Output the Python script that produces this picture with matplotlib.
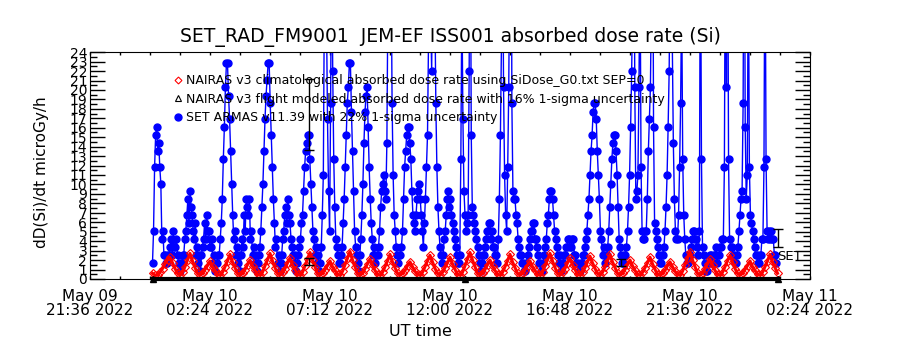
import numpy as np
import pandas as pd
import matplotlib
matplotlib.use('Agg')
import matplotlib.pyplot as plt
import matplotlib.dates as mdates
from matplotlib.ticker import FixedLocator, MultipleLocator
from matplotlib.lines import Line2D

# SET ARMAS v11.39 dose rate (microGy/h), 2.5 min cadence; values above 24 run off the top
armas_start = '2022-05-10 00:06'
armas_step = '150s'
armas_dose = [
    1.7, 5.1, 11.8, 15.2, 16.1, 13.5, 14.4, 11.8, 10.1, 4.2, 5.1, 2.5, 2.5, 1.7, 1.7, 2.5,
    2.5, 3.4, 4.2, 2.5, 5.1, 3.4, 3.4, 4.2, 2.5, 1.7, 0.8, 1.7,
    1.7, 2.5, 2.5, 4.2, 5.1, 6.8, 8.5, 5.9, 9.3, 7.6, 6.8, 5.1, 4.2, 5.9, 2.5, 3.4, 1.7, 2.5,
    0.8, 2.5, 3.4, 4.2, 5.9, 4.2, 6.8, 5.1, 5.1, 3.4, 3.4, 4.2, 1.7, 2.5, 0.8, 1.7,
    1.7, 2.5, 2.5, 4.2, 5.9, 8.5, 12.7, 16.1, 20.3, 22.8, 22.8, 19.4, 16.9, 13.5, 10.1, 6.8,
    4.2, 5.1, 2.5, 3.4, 1.7, 2.5,
    0.8, 2.5, 4.2, 3.4, 6.8, 5.1, 8.5, 7.6, 6.8, 8.5, 4.2, 5.1, 2.5, 3.4, 1.7, 2.5, 0.8, 1.7,
    2.5, 3.4, 5.1, 7.6, 10.1, 13.5, 16.9, 19.4, 21.1, 22.8, 22.8, 18.6, 15.2, 11.8, 8.5, 5.9,
    3.4, 4.2, 1.7, 2.5,
    0.8, 1.7, 2.5, 4.2, 5.1, 6.8, 7.6, 5.9, 8.5, 6.8, 5.9, 4.2, 3.4, 2.5, 1.7, 2.5,
    0.8, 1.7, 2.5, 3.4, 4.2, 5.9, 6.8, 9.3, 11.8, 13.5, 14.4, 15.2, 15.2, 12.7, 10.1, 7.6,
    5.1, 4.2, 2.5, 3.4, 1.7, 2.5,
    0.8, 1.7, 3.4, 6.8, 11.0, 30.0, 45.0, 28.0, 16.9, 9.3, 5.1, 18.6, 40.0, 22.0, 12.7, 7.6,
    4.2, 3.4, 2.5, 1.7,
    1.7, 2.5, 3.4, 5.9, 8.5, 11.8, 15.2, 18.6, 20.3, 22.8, 22.8, 17.7, 13.5, 9.3, 5.1, 3.4,
    2.5, 1.7,
    0.8, 2.5, 4.2, 6.8, 10.1, 14.4, 17.7, 19.4, 20.3, 16.1, 11.8, 8.5, 5.9, 4.2, 2.5, 3.4,
    1.7, 2.5,
    2.5, 3.4, 5.1, 7.6, 9.3, 10.1, 11.0, 9.3, 8.5, 14.4, 30.0, 45.0, 55.0, 35.0, 18.6, 11.0,
    6.8, 5.1, 3.4, 2.5, 1.7, 2.5,
    2.5, 3.4, 5.1, 8.5, 11.8, 13.5, 15.2, 16.1, 16.1, 14.4, 12.7, 9.3, 6.8, 5.9, 5.1, 6.8,
    8.5, 9.3, 10.1, 8.5, 6.8, 5.1,
    3.4, 5.9, 8.5, 11.8, 15.2, 26.0, 35.0, 28.0, 22.0, 35.0, 50.0, 30.0, 18.6, 11.8, 7.6, 5.1,
    3.4, 2.5,
    1.7, 2.5, 4.2, 5.1, 6.8, 8.5, 9.3, 7.6, 8.5, 6.8, 5.9, 5.1, 4.2, 3.4, 2.5, 1.7, 1.7, 2.5,
    12.7, 30.0, 16.9, 9.3, 6.8, 5.1, 5.9, 6.8, 22.0, 45.0, 15.2, 7.6, 6.8, 5.9, 5.1, 4.2,
    3.4, 2.5, 1.7, 0.8,
    1.7, 2.5, 2.5, 3.4, 4.2, 5.1, 5.1, 5.9, 5.9, 4.2, 5.1, 3.4, 3.4, 2.5, 2.5, 1.7,
    4.2, 8.5, 15.2, 25.0, 40.0, 20.3, 11.0, 6.8, 5.1, 11.8, 20.3, 35.0, 60.0, 18.6, 9.3, 8.5,
    8.5, 6.8, 5.9, 4.2, 3.4, 2.5, 2.5, 1.7,
    1.7, 0.8, 0.8, 1.7, 2.5, 3.4, 4.2, 5.1, 5.1, 5.9, 5.9, 4.2, 4.2, 3.4, 2.5, 1.7, 1.7, 0.8,
    0.8, 1.7,
    2.5, 3.4, 4.2, 5.9, 6.8, 8.5, 9.3, 9.3, 8.5, 6.8, 5.1, 4.2, 3.4, 2.5, 1.7, 2.5, 0.8, 1.7,
    1.7, 2.5, 2.5, 3.4, 3.4, 4.2, 4.2, 3.4, 3.4, 4.2, 4.2, 2.5, 2.5, 1.7, 1.7, 0.8, 0.8, 1.7,
    1.7, 2.5,
    2.5, 3.4, 4.2, 5.1, 6.8, 8.5, 11.0, 13.5, 15.2, 17.7, 18.6, 18.6, 16.9, 13.5, 11.0, 8.5,
    5.1, 4.2, 2.5, 3.4, 1.7, 2.5,
    2.5, 3.4, 5.1, 7.6, 10.1, 12.7, 14.4, 15.2, 15.2, 13.5, 11.0, 7.6, 4.2, 3.4, 2.5, 1.7,
    1.7, 2.5, 2.5, 3.4, 5.1, 7.6, 11.0, 16.1, 22.0, 30.0, 45.0, 20.3, 8.5, 9.3, 11.0, 20.3,
    35.0, 11.8, 5.1, 4.2, 4.2, 5.1, 5.1, 8.5, 13.5, 16.9, 20.3, 30.0, 50.0, 16.1, 5.9, 5.1,
    4.2, 3.4, 2.5, 1.7,
    1.7, 2.5, 2.5, 3.4, 5.1, 7.6, 11.0, 16.1, 22.0, 35.0, 55.0, 25.0, 14.4, 8.5, 5.1, 4.2,
    4.2, 6.8, 11.8, 18.6, 30.0, 12.7, 6.8, 4.2, 2.5, 1.7,
    1.7, 2.5, 2.5, 3.4, 4.2, 5.1, 5.1, 4.2, 4.2, 3.4, 2.5, 5.1,
    40.0, 12.7, 3.4, 2.5, 1.7, 0.8, 0.8, 1.7,
    1.7, 2.5, 2.5, 1.7, 1.7, 2.5, 2.5, 3.4, 1.7, 2.5, 2.5, 3.4, 3.4, 4.2,
    4.2, 11.8, 40.0, 20.3, 45.0, 12.7, 4.2, 3.4, 3.4, 2.5, 2.5, 1.7,
    1.7, 2.5, 3.4, 5.1, 6.8, 8.5, 9.3, 18.6, 50.0, 16.1, 8.5, 11.0, 35.0, 11.8, 6.8, 5.9,
    5.1, 4.2, 3.4, 2.5, 2.5, 1.7,
    1.7, 2.5, 2.5, 4.2, 4.2, 11.8, 40.0, 12.7, 5.1, 4.2, 5.1, 4.2, 5.1, 4.2, 4.2, 2.5,
    2.5, 1.7,
]

# NAIRAS v3 climatological dose rate (microGy/h), 6 min cadence
nairas_start = '2022-05-10 00:06'
nairas_step = '6min'
nairas_dose = [
    0.6, 0.4, 0.4, 0.7, 1.1, 1.6, 2.0, 2.3, 1.7, 1.1, 0.6,
    0.4, 0.7, 1.3, 2.0, 2.7, 1.9, 1.2, 0.6,
    0.4, 0.6, 1.0, 1.4, 1.9, 1.3, 0.9, 0.5,
    0.4, 0.7, 1.3, 1.9, 2.6, 1.8, 1.2, 0.6,
    0.4, 0.6, 1.0, 1.5, 2.0, 1.4, 0.9, 0.5,
    0.4, 0.7, 1.4, 2.0, 2.7, 1.9, 1.2, 0.6,
    0.4, 0.7, 1.1, 1.7, 2.2, 1.5, 1.0, 0.5,
    0.4, 0.7, 1.4, 2.1, 2.8, 2.0, 1.3, 0.6,
    0.4, 0.6, 1.0, 1.4, 1.9, 1.3, 0.9, 0.5,
    0.4, 0.8, 1.5, 2.2, 2.9, 2.0, 1.3, 0.6,
    0.4, 0.6, 1.1, 1.6, 2.1, 1.5, 0.9, 0.5,
    0.4, 0.7, 1.3, 1.9, 2.6, 1.8, 1.2, 0.6,
    0.4, 0.6, 0.9, 1.4, 1.8, 1.3, 0.8, 0.5,
    0.4, 0.7, 1.3, 1.9, 2.5, 1.8, 1.1, 0.6,
    0.4, 0.7, 1.2, 1.7, 2.3, 1.6, 1.0, 0.5,
    0.4, 0.7, 1.4, 2.1, 2.8, 2.0, 1.3, 0.6,
    0.4, 0.6, 1.0, 1.5, 2.0, 1.4, 0.9, 0.5,
    0.4, 0.7, 1.3, 1.9, 2.6, 1.8, 1.2, 0.6,
    0.4, 0.6, 1.0, 1.4, 1.9, 1.3, 0.9, 0.5,
    0.4, 0.7, 1.4, 2.0, 2.7, 1.9, 1.2, 0.6,
    0.4, 0.7, 1.1, 1.7, 2.2, 1.5, 1.0, 0.5,
    0.4, 0.7, 1.2, 1.8, 2.4, 1.7, 1.1, 0.6,
    0.4, 0.7, 1.3, 1.9, 2.6, 1.8, 1.2, 0.6,
    0.4, 0.6, 1.0, 1.5, 2.0, 1.4, 0.9, 0.5,
    0.4, 0.7, 1.2, 1.7, 2.3, 1.6, 1.0, 0.5,
    0.4, 0.6, 0.9, 1.4, 1.8, 1.3, 0.8, 0.5,
    0.4, 0.8, 1.5, 2.2, 2.9, 2.0, 1.3, 0.6,
    0.4, 0.6, 1.1, 1.6, 2.1, 1.5, 0.9, 0.5,
    0.4, 0.7, 1.3, 1.9, 2.5, 1.8, 1.1, 0.6,
    0.4, 0.6, 1.0, 1.4, 1.9, 1.3, 0.9, 0.5,
    0.4, 0.7, 1.3, 1.9, 2.6, 1.8, 1.2, 0.6,
]

# NAIRAS v3 flight modeled dose (sits on zero)
flight_times = ['2022-05-10 00:06', '2022-05-10 12:36', '2022-05-11 01:06']
flight_dose = [0.0, 0.0, 0.0]

# 22% 1-sigma error bars drawn for a few ARMAS samples
bar_times = ['2022-05-10 06:21', '2022-05-10 06:21', '2022-05-10 18:51']
bar_dose = [17.4, 1.85, 1.7]
bar_sigma = [3.8, 0.4, 0.37]

# SET mean value with its bar
set_time = '2022-05-11 01:06'
set_dose = 4.3
set_sigma = 0.95

x_start = '2022-05-09 21:36'
x_end = '2022-05-11 02:24'


def to_num(t):
    return mdates.date2num(pd.DatetimeIndex(t).to_pydatetime())


armas_t = to_num(pd.date_range(armas_start, periods=len(armas_dose), freq=armas_step))
nairas_t = to_num(pd.date_range(nairas_start, periods=len(nairas_dose), freq=nairas_step))

plt.rcParams['font.family'] = 'DejaVu Sans'
fig = plt.figure(figsize=(9, 3.5), dpi=100)
ax = fig.add_axes([0.1, 0.203, 0.8, 0.648])

ax.plot(armas_t, armas_dose, '-o', color='#0000ff', lw=1, markersize=5, zorder=2)
ax.plot(nairas_t, nairas_dose, '-D', color='#ff0000', lw=2.2, markersize=4.5,
        mfc='none', mew=0.8, zorder=3)
ax.plot(to_num(flight_times), flight_dose, '-', color='black', lw=3, clip_on=False, zorder=4)
ax.plot(to_num(flight_times), flight_dose, '^', color='black', markersize=4,
        clip_on=False, zorder=4)
ax.errorbar(to_num(bar_times), bar_dose, yerr=bar_sigma, fmt='none', ecolor='black',
            elinewidth=1, capsize=3.5, zorder=5)
ax.errorbar(to_num([set_time]), [set_dose], yerr=[set_sigma], fmt='none', ecolor='black',
            elinewidth=1, capsize=3.5, zorder=5)
ax.text(to_num([set_time])[0], 2.4, 'SET', fontsize=9.5, ha='left', va='center')

ax.set_xlim(to_num([x_start, x_end]))
ax.set_ylim(0, 24)

major = pd.date_range(x_start, x_end, freq='288min')
minor = pd.date_range(x_start, x_end, freq='72min')
ax.xaxis.set_major_locator(FixedLocator(to_num(major)))
ax.xaxis.set_minor_locator(FixedLocator(to_num(minor)))
ax.xaxis.set_major_formatter(mdates.DateFormatter('%b %d\n%H:%M %Y'))
ax.yaxis.set_major_locator(MultipleLocator(1))
ax.yaxis.set_minor_locator(MultipleLocator(0.5))

ax.tick_params(axis='x', which='both', direction='in', top=True, length=2.5, width=1,
               pad=7, labelsize=11)
ax.tick_params(axis='y', which='major', direction='in', right=True, length=11, width=1,
               pad=2, labelsize=10)
ax.tick_params(axis='y', which='minor', direction='in', right=True, length=5, width=1)
for lab in ax.get_xticklabels():
    lab.set_linespacing(0.95)

handles = [
    Line2D([], [], ls='none', marker='D', color='#ff0000', mfc='none', markersize=3.5, mew=0.8),
    Line2D([], [], ls='none', marker='^', color='black', mfc='none', markersize=4.5, mew=0.8),
    Line2D([], [], ls='none', marker='o', color='#0000ff', markersize=5),
]
labels = [
    'NAIRAS v3 climatological absorbed dose rate using SiDose_G0.txt SEP=0',
    'NAIRAS v3 flight modeled absorbed dose rate with 16% 1-sigma uncertainty',
    'SET ARMAS v11.39 with 22% 1-sigma uncertainty',
]
ax.legend(handles, labels, loc='upper left', bbox_to_anchor=(174 / 900, 1 - 74 / 350),
          bbox_transform=fig.transFigure, frameon=False, fontsize=9, handlelength=0.6,
          handletextpad=0.4, labelspacing=0.45, borderpad=0, borderaxespad=0)

fig.text(0.5, 1 - 37 / 350, 'SET_RAD_FM9001  JEM-EF ISS001 absorbed dose rate (Si)',
         ha='center', va='center', fontsize=13.5)
fig.text(42 / 900, 1 - 172 / 350, 'dD(Si)/dt microGy/h', rotation=90,
         ha='center', va='center', fontsize=11)
fig.text(420 / 900, 1 - 331 / 350, 'UT time', ha='center', va='center', fontsize=11.5)

fig.savefig('out.png', dpi=100)
